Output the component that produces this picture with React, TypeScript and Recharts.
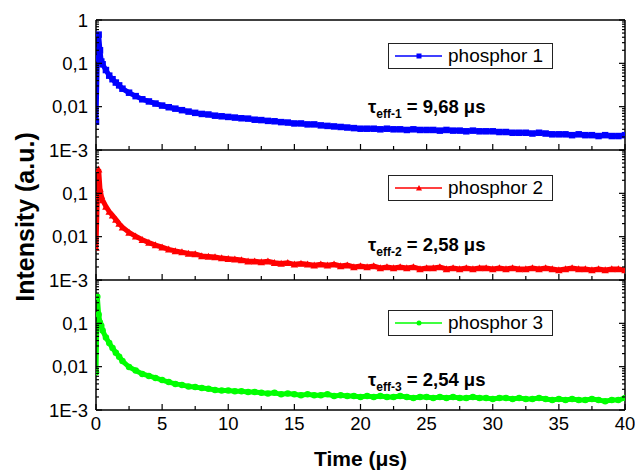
import React from "react";
import { LineChart, Line, XAxis, YAxis, ReferenceLine } from "recharts";

// --- data (time in µs, intensity in a.u.) ---

const times = [
  0, 0.1, 0.2, 0.3, 0.4, 0.5, 0.75, 1, 1.25, 1.5,
  1.75, 2, 2.5, 3, 3.5, 4, 4.5, 5, 5.5, 6,
  6.5, 7, 7.5, 8, 8.5, 9, 9.5, 10, 10.5, 11,
  11.5, 12, 12.5, 13, 13.5, 14, 14.5, 15, 15.5, 16,
  16.5, 17, 17.5, 18, 18.5, 19, 19.5, 20, 20.5, 21,
  21.5, 22, 22.5, 23, 23.5, 24, 24.5, 25, 25.5, 26,
  26.5, 27, 27.5, 28, 28.5, 29, 29.5, 30, 30.5, 31,
  31.5, 32, 32.5, 33, 33.5, 34, 34.5, 35, 35.5, 36,
  36.5, 37, 37.5, 38, 38.5, 39, 39.5, 40,
];

const phosphor1 = [
  0.0045, 0.13, 0.46, 0.2, 0.11, 0.095, 0.07, 0.052, 0.043, 0.036,
  0.031, 0.026, 0.021, 0.0175, 0.0148, 0.0132, 0.0118, 0.0106, 0.0097, 0.009,
  0.0083, 0.0077, 0.0072, 0.0068, 0.0066, 0.0062, 0.006, 0.0058, 0.0056, 0.0054,
  0.0053, 0.005, 0.0049, 0.0047, 0.0046, 0.0044, 0.0043, 0.0041, 0.0041, 0.0039,
  0.0039, 0.0037, 0.0036, 0.0035, 0.0034, 0.0033, 0.0032, 0.0031, 0.0031, 0.0031,
  0.003, 0.0031, 0.003, 0.003, 0.0029, 0.003, 0.0029, 0.0029, 0.0029, 0.0028,
  0.0029, 0.0028, 0.0028, 0.0027, 0.0028, 0.0027, 0.0027, 0.0027, 0.0026, 0.0026,
  0.0025, 0.0025, 0.0025, 0.0024, 0.0025, 0.0024, 0.0023, 0.0023, 0.0023, 0.0022,
  0.0023, 0.0022, 0.0022, 0.0021, 0.0022, 0.0021, 0.0021, 0.0022,
];

const phosphor2 = [
  0.0056, 0.08, 0.36, 0.13, 0.088, 0.07, 0.05, 0.038, 0.031, 0.025,
  0.02, 0.0165, 0.0125, 0.0102, 0.0085, 0.0073, 0.0064, 0.0057, 0.0051, 0.0047,
  0.0044, 0.0041, 0.004, 0.0036, 0.0035, 0.0034, 0.0032, 0.0031, 0.003, 0.0029,
  0.0027, 0.0027, 0.0026, 0.0027, 0.0025, 0.0024, 0.0025, 0.0023, 0.0024, 0.0023,
  0.0022, 0.0023, 0.0022, 0.0023, 0.0021, 0.0022, 0.002, 0.0021, 0.002, 0.0021,
  0.0019, 0.002, 0.0019, 0.002, 0.0019, 0.002, 0.0018, 0.0019, 0.0019, 0.002,
  0.0018, 0.0019, 0.0018, 0.0019, 0.0018, 0.0019, 0.0019, 0.0018, 0.0019, 0.0018,
  0.0019, 0.0018, 0.0018, 0.0019, 0.0018, 0.0019, 0.0018, 0.0017, 0.0018, 0.0019,
  0.0018, 0.0018, 0.0017, 0.0018, 0.0017, 0.0018, 0.0018, 0.0017,
];

const phosphor3 = [
  0.0074, 0.41, 0.16, 0.105, 0.088, 0.068, 0.047, 0.035, 0.027, 0.021,
  0.017, 0.0135, 0.0098, 0.0082, 0.0068, 0.0061, 0.0055, 0.0049, 0.0044, 0.004,
  0.0038, 0.0035, 0.0034, 0.0032, 0.0031, 0.0029, 0.0028, 0.0028, 0.0027, 0.0027,
  0.0026, 0.0026, 0.0025, 0.0024, 0.0025, 0.0023, 0.0024, 0.0023, 0.0022, 0.0023,
  0.0022, 0.0022, 0.0023, 0.0021, 0.0022, 0.0021, 0.0021, 0.002, 0.0021, 0.002,
  0.0021, 0.002, 0.002, 0.0021, 0.002, 0.0019, 0.002, 0.002, 0.0019, 0.002,
  0.0019, 0.002, 0.0019, 0.0019, 0.002, 0.0019, 0.0019, 0.0018, 0.0019, 0.0019,
  0.0018, 0.0019, 0.0018, 0.0018, 0.0019, 0.0018, 0.0017, 0.0018, 0.0017, 0.0018,
  0.0017, 0.0017, 0.0018, 0.0017, 0.0016, 0.0017, 0.0017, 0.0019,
];

const xTicks = [0, 2.5, 5, 7.5, 10, 12.5, 15, 17.5, 20, 22.5, 25, 27.5, 30, 32.5, 35, 37.5, 40];
const yTicks = [
  0.001, 0.002, 0.003, 0.004, 0.005, 0.006, 0.007, 0.008, 0.009,
  0.01, 0.02, 0.03, 0.04, 0.05, 0.06, 0.07, 0.08, 0.09,
  0.1, 0.2, 0.3, 0.4, 0.5, 0.6, 0.7, 0.8, 0.9, 1,
];
const yMajor = [0.001, 0.01, 0.1, 1];
const yMajorLabels = ["1E-3", "0,01", "0,1", "1"];

const rows = times.map((t, i) => ({ t, v1: phosphor1[i], v2: phosphor2[i], v3: phosphor3[i] }));

const FONT = '"Liberation Sans", Arial, Helvetica, sans-serif';
const AXIS = { stroke: "#000", strokeWidth: 1.5 };

// --- ticks (drawn inward, like Origin does) ---

const LeftTick = ({ x, y, payload, showTop }: any) => {
  const v = payload.value;
  const idx = yMajor.indexOf(v);
  const major = idx >= 0;
  const label = major && (showTop || v !== 1) ? yMajorLabels[idx] : null;
  return (
    <g>
      <line x1={x} x2={x + (major ? 6 : 3)} y1={y} y2={y} stroke="#000" strokeWidth={1.2} />
      {label && (
        <text x={x - 8} y={y} dy="0.36em" textAnchor="end" fontSize={18.5} fill="#000" fontFamily={FONT}>
          {label}
        </text>
      )}
    </g>
  );
};

const RightTick = ({ x, y, payload }: any) => {
  const major = yMajor.indexOf(payload.value) >= 0;
  return <line x1={x} x2={x - (major ? 6 : 3)} y1={y} y2={y} stroke="#000" strokeWidth={1.2} />;
};

const BottomTick = ({ x, y, payload, showLabels }: any) => {
  const v = payload.value;
  const major = v % 5 === 0;
  return (
    <g>
      <line x1={x} x2={x} y1={y} y2={y - (major ? 6 : 4)} stroke="#000" strokeWidth={1.2} />
      {showLabels && major && (
        <text x={x} y={y + 20} textAnchor="middle" fontSize={18.5} fill="#000" fontFamily={FONT}>
          {v}
        </text>
      )}
    </g>
  );
};

// --- markers ---

const Marker = ({ shape, cx, cy, color, size = 5 }: any) => {
  const h = size / 2;
  if (shape === "square") return <rect x={cx - h} y={cy - h} width={size} height={size} fill={color} />;
  if (shape === "triangle")
    return <polygon points={`${cx},${cy - h - 0.5} ${cx - h - 0.5},${cy + h} ${cx + h + 0.5},${cy + h}`} fill={color} />;
  return <circle cx={cx} cy={cy} r={h} fill={color} />;
};

const dotRenderer = (shape: string, color: string) => (props: any) => {
  const { cx, cy, index } = props;
  if (cx == null || cy == null) return <g key={`d${index}`} />;
  return (
    <g key={`d${index}`}>
      <Marker shape={shape} cx={cx} cy={cy} color={color} size={6.5} />
    </g>
  );
};

const panels = [
  {
    key: "v1", name: "phosphor 1", color: "#0000ff", shape: "square",
    sub: "eff-1", tau: "9,68",
    top: 0, height: 170, marginTop: 20, xHeight: 20,
    showTop: true, showX: false, legendTop: 43, tauTop: 95,
  },
  {
    key: "v2", name: "phosphor 2", color: "#ff0000", shape: "triangle",
    sub: "eff-2", tau: "2,58",
    top: 150, height: 150, marginTop: 0, xHeight: 20,
    showTop: false, showX: false, legendTop: 175, tauTop: 233,
  },
  {
    key: "v3", name: "phosphor 3", color: "#00ff00", shape: "circle",
    sub: "eff-3", tau: "2,54",
    top: 280, height: 192, marginTop: 0, xHeight: 62,
    showTop: false, showX: true, legendTop: 310, tauTop: 368,
  },
];

const LegendBox = ({ name, color, shape, top }: any) => (
  <div
    style={{
      position: "absolute", left: 388, top, width: 163, height: 24,
      border: "1.5px solid #222", background: "#fff",
      display: "flex", alignItems: "center", fontFamily: FONT, fontSize: 19,
    }}
  >
    <svg width={58} height={24}>
      <line x1={6} x2={53} y1={12} y2={12} stroke={color} strokeWidth={1.3} />
      <Marker shape={shape} cx={30} cy={12} color={color} size={5} />
    </svg>
    <span style={{ marginLeft: 1, lineHeight: "24px" }}>{name}</span>
  </div>
);

const TauNote = ({ sub, tau, top }: any) => (
  <div
    style={{
      position: "absolute", left: 368, top, fontFamily: FONT, fontWeight: "bold",
      fontSize: 18.5, lineHeight: "24px", whiteSpace: "nowrap",
    }}
  >
    τ<sub style={{ fontSize: 12, verticalAlign: "-5px" }}>{sub}</sub> = {tau} μs
  </div>
);

export default function App() {
  return (
    <div style={{ position: "absolute", left: 0, top: 0, width: 635, height: 472, background: "#fff", fontFamily: FONT }}>
      {panels.map((p) => (
        <div key={p.key} style={{ position: "absolute", left: 0, top: p.top }}>
          <LineChart
            width={635}
            height={p.height}
            data={rows}
            margin={{ top: p.marginTop, right: 0, bottom: 0, left: 0 }}
          >
            <XAxis
              dataKey="t"
              type="number"
              domain={[0, 40]}
              ticks={xTicks}
              interval={0}
              allowDataOverflow
              height={p.xHeight}
              tickSize={0}
              tickMargin={0}
              tickLine={false}
              axisLine={AXIS}
              tick={(props: any) => <BottomTick {...props} showLabels={p.showX} />}
              label={
                p.showX
                  ? { value: "Time (μs)", position: "insideBottom", offset: 6, fill: "#000", fontSize: 21, fontWeight: "bold", fontFamily: FONT }
                  : undefined
              }
            />
            <YAxis
              type="number"
              scale="log"
              domain={[0.001, 1]}
              ticks={yTicks}
              interval={0}
              allowDataOverflow
              width={96}
              tickSize={0}
              tickMargin={0}
              tickLine={false}
              axisLine={AXIS}
              tick={(props: any) => <LeftTick {...props} showTop={p.showTop} />}
            />
            <YAxis
              yAxisId="r"
              orientation="right"
              type="number"
              scale="log"
              domain={[0.001, 1]}
              ticks={yTicks}
              interval={0}
              allowDataOverflow
              width={10}
              tickSize={0}
              tickMargin={0}
              tickLine={false}
              axisLine={AXIS}
              tick={(props: any) => <RightTick {...props} />}
            />
            {p.showTop && <ReferenceLine y={1} stroke="#000" strokeWidth={1.5} />}
            <Line
              type="linear"
              dataKey={p.key}
              stroke={p.color}
              strokeWidth={5}
              dot={dotRenderer(p.shape, p.color)}
              isAnimationActive={false}
            />
          </LineChart>
        </div>
      ))}
      {panels.map((p) => (
        <LegendBox key={`l${p.key}`} name={p.name} color={p.color} shape={p.shape} top={p.legendTop} />
      ))}
      {panels.map((p) => (
        <TauNote key={`t${p.key}`} sub={p.sub} tau={p.tau} top={p.tauTop} />
      ))}
      <div
        style={{
          position: "absolute", left: 25 - 150, top: 217 - 14, width: 300, height: 28,
          transform: "rotate(-90deg)", textAlign: "center", lineHeight: "28px",
          fontFamily: FONT, fontWeight: "bold", fontSize: 25,
        }}
      >
        Intensity (a.u.)
      </div>
    </div>
  );
}
